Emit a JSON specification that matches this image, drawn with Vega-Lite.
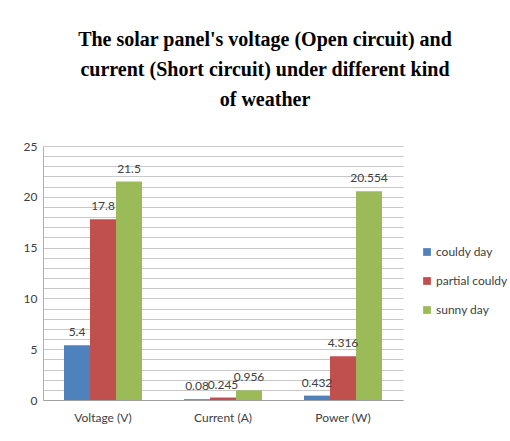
{
  "$schema": "https://vega.github.io/schema/vega-lite/v6.json",
  "autosize": {"type": "none"},
  "width": 360,
  "height": 254,
  "padding": {"left": 43, "top": 146, "right": 107, "bottom": 41},
  "background": "white",
  "title": {
    "text": ["The solar panel's voltage (Open circuit) and", "current (Short circuit) under different kind", "of weather"],
    "font": "Liberation Serif",
    "fontWeight": "bold",
    "fontSize": 20,
    "lineHeight": 30,
    "color": "#000000",
    "anchor": "middle",
    "dx": 42,
    "offset": 30
  },
  "data": {
    "values": [
      {"measure": "Voltage (V)", "weather": "couldy day", "value": 5.4, "label": "5.4"},
      {"measure": "Voltage (V)", "weather": "partial couldy", "value": 17.8, "label": "17.8"},
      {"measure": "Voltage (V)", "weather": "sunny day", "value": 21.5, "label": "21.5"},
      {"measure": "Current (A)", "weather": "couldy day", "value": 0.08, "label": "0.08"},
      {"measure": "Current (A)", "weather": "partial couldy", "value": 0.245, "label": "0.245"},
      {"measure": "Current (A)", "weather": "sunny day", "value": 0.956, "label": "0.956"},
      {"measure": "Power (W)", "weather": "couldy day", "value": 0.432, "label": "0.432"},
      {"measure": "Power (W)", "weather": "partial couldy", "value": 4.316, "label": "4.316"},
      {"measure": "Power (W)", "weather": "sunny day", "value": 20.554, "label": "20.554"}
    ]
  },
  "encoding": {
    "x": {
      "field": "measure",
      "type": "nominal",
      "sort": ["Voltage (V)", "Current (A)", "Power (W)"],
      "scale": {"paddingInner": 0.35, "paddingOuter": 0.175},
      "axis": {
        "title": null,
        "labelAngle": 0,
        "labelFont": "Lato",
        "labelFontSize": 12,
        "labelColor": "#404040",
        "labelPadding": 12,
        "domainColor": "#a0a0a0",
        "ticks": false
      }
    },
    "xOffset": {"field": "weather", "type": "nominal", "sort": ["couldy day", "partial couldy", "sunny day"]},
    "y": {
      "field": "value",
      "type": "quantitative",
      "scale": {"domain": [0, 25], "nice": false},
      "axis": {
        "title": null,
        "values": [0,1,2,3,4,5,6,7,8,9,10,11,12,13,14,15,16,17,18,19,20,21,22,23,24,25],
        "labelExpr": "datum.value % 5 == 0 ? datum.label : ''",
        "labelFont": "Lato",
        "labelFontSize": 12,
        "labelColor": "#404040",
        "labelPadding": 6,
        "ticks": false,
        "domain": true,
        "domainColor": "#b0b0b0",
        "gridColor": "#c8c8c8",
        "gridWidth": 1
      }
    }
  },
  "layer": [
    {
      "mark": {"type": "bar"},
      "encoding": {
        "color": {
          "field": "weather",
          "type": "nominal",
          "sort": ["couldy day", "partial couldy", "sunny day"],
          "scale": {"domain": ["couldy day", "partial couldy", "sunny day"], "range": ["#4F81BD", "#C0504D", "#9BBB59"]},
          "legend": {
            "title": null,
            "orient": "none",
            "legendX": 378,
            "legendY": 100,
            "symbolType": "square",
            "symbolSize": 60,
            "symbolStrokeWidth": 0,
            "labelFont": "Lato",
            "labelFontSize": 12,
            "labelColor": "#404040",
            "labelOffset": 3,
            "rowPadding": 17
          }
        }
      }
    },
    {
      "mark": {"type": "text", "baseline": "bottom", "dy": -6, "font": "Lato", "fontSize": 12, "color": "#404040"},
      "encoding": {"text": {"field": "label"}}
    }
  ],
  "config": {"view": {"stroke": null}}
}
